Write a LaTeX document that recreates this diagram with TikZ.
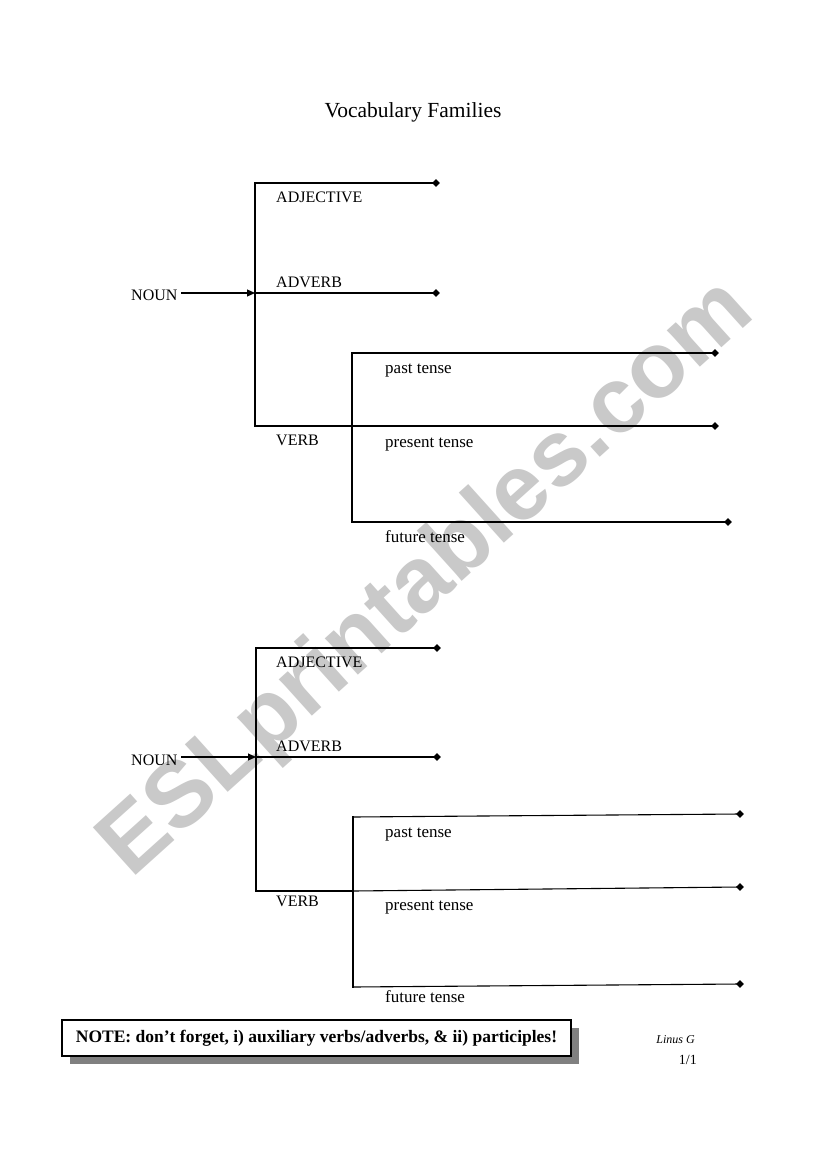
\documentclass[tikz,border=0pt]{standalone}
\usepackage{fontspec}
\setmainfont{Liberation Serif}
\newfontfamily\wmfont{Liberation Sans}
\usetikzlibrary{arrows.meta,shapes.geometric,shadows}
\tikzset{
  ln/.style={line width=1.1pt, line cap=rect},
  arr/.style={ln, -{Triangle[length=8pt,width=7pt]}},
  dia/.style={diamond, fill=black, inner sep=0pt, minimum width=8pt, minimum height=8pt},
  lab/.style={anchor=base west, inner sep=0pt, font=\fontsize{16}{18}\selectfont},
  labs/.style={anchor=base west, inner sep=0pt, font=\fontsize{17}{19}\selectfont},
  title/.style={anchor=base, inner sep=0pt, font=\fontsize{21.5}{24}\selectfont},
  notebox/.style={draw, line width=1.1pt, fill=white, minimum width=509pt, minimum height=36pt, inner sep=0pt,
    font=\bfseries\fontsize{17.5}{19}\selectfont,
    drop shadow={shadow xshift=8pt, shadow yshift=-8pt, fill=black!50, opacity=1}},
  sig/.style={anchor=base east, inner sep=0pt},
  wm/.style={rotate=42, text=black!21, inner sep=0pt, font=\wmfont\bfseries\fontsize{93}{100}\selectfont}
}
\begin{document}
\begin{tikzpicture}[x=1pt, y=-1pt]
\useasboundingbox (0,0) rectangle (821,1169);
\fill[white] (0,0) rectangle (821,1169);
% watermark
\node[wm] (wmark) at (428,580) {ESLprintables.com};
% title
\node[title] (ttl) at (413,118) {Vocabulary Families};

% ---------- top tree ----------
\coordinate (a1) at (255,183);
\coordinate (a2) at (255,293);
\coordinate (a3) at (255,426);
\coordinate (b1) at (352,353);
\coordinate (b2) at (352,426);
\coordinate (b3) at (352,522);
\node[dia] (adjA) at (436,183) {};
\node[dia] (advA) at (436,293) {};
\node[dia] (pstA) at (715,353) {};
\node[dia] (prsA) at (715,426) {};
\node[dia] (futA) at (728,522) {};
\draw[ln] (a1) -- (a3);
\draw[ln] (a1) -- (adjA.center);
\draw[ln] (a2) -- (advA.center);
\draw[ln] (a3) -- (b2);
\draw[ln] (b1) -- (b3);
\draw[ln] (b1) -- (pstA.center);
\draw[ln] (b2) -- (prsA.center);
\draw[ln] (b3) -- (futA.center);
\node[lab] (nounA) at (131,300) {NOUN};
\draw[arr] ([xshift=4pt]a2 -| nounA.east) -- (a2);
\node[lab] (adjlA) at (276,202) {ADJECTIVE};
\node[lab] (advlA) at (276,287) {ADVERB};
\node[lab] (vrblA) at (276,445) {VERB};
\node[labs] (pstlA) at (385,373) {past tense};
\node[labs] (prslA) at (385,447) {present tense};
\node[labs] (futlA) at (385,542) {future tense};

% ---------- bottom tree ----------
\coordinate (c1) at (256,648);
\coordinate (c2) at (256,757);
\coordinate (c3) at (256,891);
\coordinate (d1) at (353,817);
\coordinate (d2) at (353,891);
\coordinate (d3) at (353,987);
\node[dia] (adjB) at (437,648) {};
\node[dia] (advB) at (437,757) {};
\node[dia] (pstB) at (740,814) {};
\node[dia] (prsB) at (740,887) {};
\node[dia] (futB) at (740,984) {};
\draw[ln] (c1) -- (c3);
\draw[ln] (c1) -- (adjB.center);
\draw[ln] (c2) -- (advB.center);
\draw[ln] (c3) -- (d2);
\draw[ln] (d1) -- (d3);
\draw[ln] (d1) -- (pstB.center);
\draw[ln] (d2) -- (prsB.center);
\draw[ln] (d3) -- (futB.center);
\node[lab] (nounB) at (131,765) {NOUN};
\draw[arr] ([xshift=4pt]c2 -| nounB.east) -- (c2);
\node[lab] (adjlB) at (276,667) {ADJECTIVE};
\node[lab] (advlB) at (276,751) {ADVERB};
\node[lab] (vrblB) at (276,906) {VERB};
\node[labs] (pstlB) at (385,837) {past tense};
\node[labs] (prslB) at (385,910) {present tense};
\node[labs] (futlB) at (385,1002) {future tense};

% ---------- note and signature ----------
\node[notebox] (note) at (316.5,1038) {NOTE: don’t forget, i) auxiliary verbs/adverbs, \& ii) participles!};
\node[sig, font=\itshape\fontsize{12}{14}\selectfont] (auth) at (695,1043) {Linus G};
\node[sig, font=\fontsize{14}{16}\selectfont] (page) at (697,1064) {1/1};
\end{tikzpicture}
\end{document}
